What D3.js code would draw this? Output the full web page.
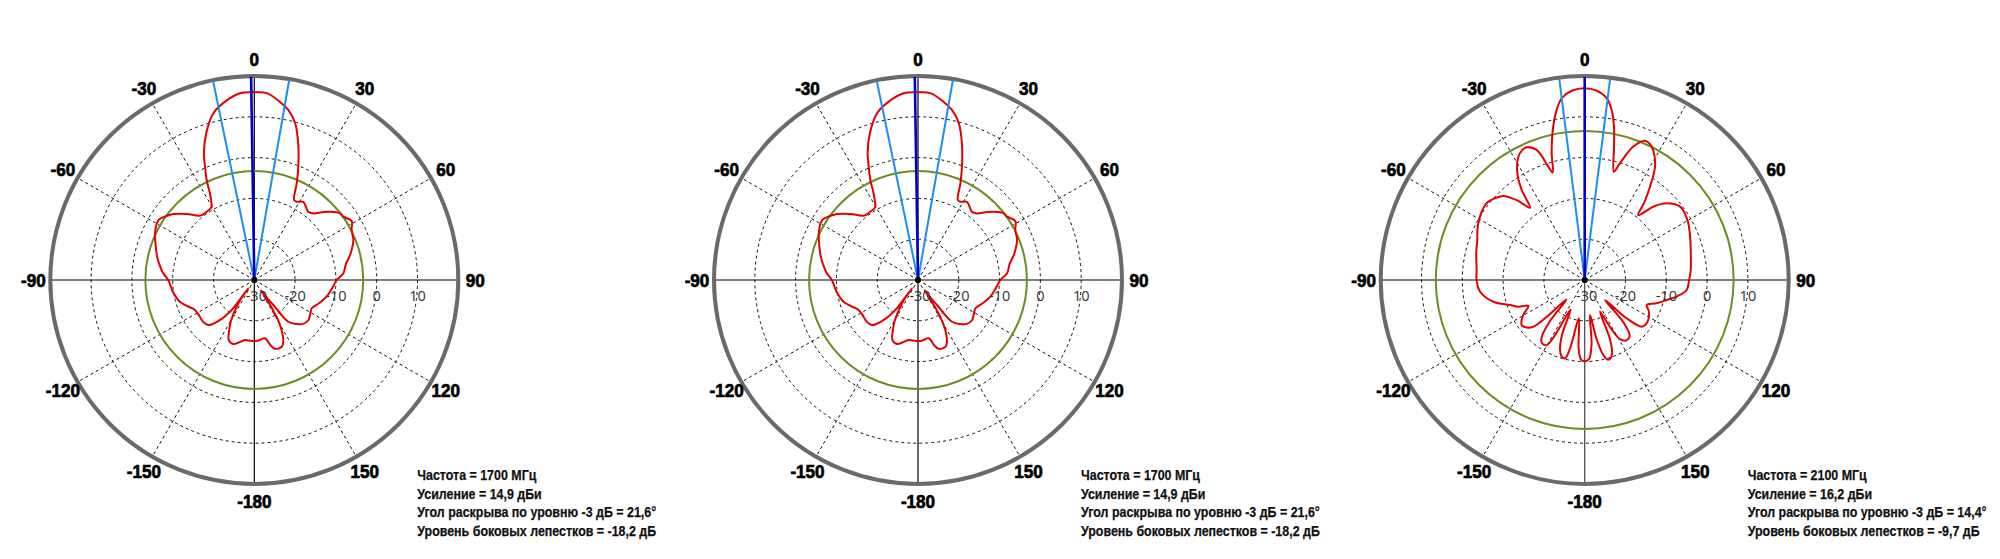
<!DOCTYPE html>
<html><head><meta charset="utf-8">
<script src="https://cdn.jsdelivr.net/npm/d3@7"></script>
<style>html,body{margin:0;background:#fff}svg{display:block}</style>
</head><body>
<svg id="chart" width="2000" height="559"></svg>
<script>
// ---------- data ----------
const angleTicks  = [0, 30, 60, 90, 120, 150, 180, -150, -120, -90, -60, -30];
const angleLabels = ["0","30","60","90","120","150","-180","-150","-120","-90","-60","-30"];
const ringTicks   = [-30, -20, -10, 0, 10];
const ringLabels  = ["-30", "-20", "-10", "0", "10"];
const dbRange     = [-30, 20];

// measured pattern, [angle in degrees, level in dB]
const pattern1700 = [
 [-180,-15.0],[-175,-15.1],[-171,-15.1],[-166,-14.2],[-162,-13.5],[-157,-14.0],[-153.5,-16.2],[-150.5,-18.3],
 [-147.5,-21.2],[-145,-24.0],[-144,-27.5],[-143.2,-21.4],[-141.5,-19.0],[-139.4,-17.1],[-134.4,-14.2],[-129,-13.8],
 [-124,-13.9],[-116.8,-13.7],[-111,-12.3],[-106.3,-11.0],[-98,-9.8],[-90,-8.9],[-85.8,-7.6],[-81,-6.5],[-76.5,-5.5],
 [-68,-3.8],[-64.8,-3.1],[-58,-2.3],[-53.7,-3.4],[-50.8,-4.4],[-45.7,-6.8],[-40,-9.4],[-35,-9.6],[-30.5,-9.3],
 [-28.5,-7.8],[-27.1,-6.1],[-25.5,-2.9],[-23.5,0.3],[-21.7,3.4],[-18.2,7.8],[-13.8,12.1],[-9.3,14.3],[-4.4,15.9],
 [0,16.0],[3.8,15.9],[8.2,14.1],[11.3,12.5],[14.6,9.7],[17.8,5.2],[20.7,0.6],[23.7,-4.1],[26.4,-8.1],[28.4,-8.2],
 [32,-7.4],[35,-8.0],[38.3,-8.7],[41.5,-8.2],[45,-6.5],[48,-5.0],[52,-3.4],[54.6,-3.2],[58.8,-2.1],[62.8,-3.2],
 [68,-3.8],[72.7,-5.0],[76.2,-6.0],[80,-7.2],[85.7,-8.1],[90,-9.8],[96,-10.8],[103,-11.8],[110,-13.2],[116.2,-14.3],
 [121,-14.0],[126.5,-13.5],[131.9,-13.9],[136,-15.0],[140.8,-16.8],[142.8,-22.3],[145,-25.0],[146.5,-27.0],
 [148,-21.5],[150,-17.6],[152.7,-14.8],[155,-13.2],[157.7,-12.3],[163.3,-12.4],[166,-13.5],[169.6,-15.5],[175,-15.2]
];
const pattern2100 = [
 [-180,-10.1],[-177.5,-10.4],[-175,-13],[-171.3,-20.5],[-168,-13],[-165.9,-10.2],[-163,-10.5],[-160.6,-11.8],
 [-157.5,-15.5],[-154.5,-22],[-151.5,-14],[-149.7,-11.5],[-146,-11.3],[-143,-12.5],[-140,-16.5],[-137,-23.5],
 [-134,-16.5],[-131.8,-12.6],[-128,-11.3],[-125.5,-11.0],[-120,-12.5],[-114.7,-14.8],[-112,-12.5],[-108.5,-10.7],
 [-103.4,-7.0],[-96.4,-4.2],[-90,-3.5],[-84.7,-3.4],[-76,-2.6],[-69.6,-1.9],[-64,-0.8],[-58.8,0.0],[-54,0.5],
 [-50.9,0.45],[-47.5,-0.3],[-44.1,-1.3],[-40.4,-4.3],[-37.1,-7.8],[-35,-3.1],[-32.3,0.9],[-28.3,4.3],[-25.8,5.3],
 [-23.6,5.5],[-20.3,4.0],[-17.8,-0.8],[-16.6,-2.55],[-14.6,2.1],[-12,7.6],[-9.4,12.2],[-7.2,14.9],[-3.9,16.5],
 [0,17.0],[3.6,16.5],[6.9,14.9],[9,12.2],[10.8,8.3],[12.4,3.5],[15.1,-2.5],[16.8,-0.1],[20,4.8],[23.4,7.2],
 [25.5,7.0],[27.8,6.0],[31.8,2.7],[35,-2.1],[37.5,-6.0],[39.5,-9.4],[43.1,-5.4],[46.9,-2.5],[52.4,-0.5],[56,-0.5],
 [61.3,-1.05],[66,-1.8],[72.6,-2.8],[84.6,-3.9],[90,-4.4],[95.6,-4.9],[100,-7.0],[103.7,-9.3],[108,-11.5],
 [112,-13.6],[116,-12.5],[122.2,-11.6],[126,-11.5],[129.3,-11.9],[132.4,-16.1],[134.6,-23],[137.5,-16],[141,-12.5],
 [145,-12],[149,-13],[151.5,-16.5],[154.2,-21.4],[157,-14],[160,-10.5],[163.6,-9.6],[166,-11],[168.5,-15],
 [171.4,-21.3],[174,-14],[177,-10.5]
];

const frequencies   = [1700, 1700, 2100];
const gains         = [14.9, 14.9, 16.2];
const beamWidths    = [21.6, 21.6, 14.4];
const beamAxes      = [-0.9, -0.9, 0];
const sideLobes     = [-18.2, -18.2, -9.7];
const patterns      = [pattern1700, pattern1700, pattern2100];

const fmt = v => String(v).replace(".", ",");
const infoLines = i => [
  `Частота = ${frequencies[i]} МГц`,
  `Усиление = ${fmt(gains[i])} дБи`,
  `Угол раскрыва по уровню -3 дБ = ${fmt(beamWidths[i])}°`,
  `Уровень боковых лепестков = ${fmt(sideLobes[i])} дБ`
];

// ---------- layout ----------
const centersX = [254.3, 918, 1584.7];
const centerY = 280;
const R = 204;
const rad = d3.scaleLinear().domain(dbRange).range([0, R]);
const toRad = a => a * Math.PI / 180;
const px = (a, r) => r * Math.sin(toRad(a));
const py = (a, r) => -r * Math.cos(toRad(a));

const svg = d3.select("#chart");

centersX.forEach((cx, i) => {
  const g = svg.append("g").attr("transform", `translate(${cx},${centerY})`);

  // dashed rings
  g.selectAll("circle.ring").data(ringTicks.slice(1)).join("circle")
    .attr("r", d => rad(d)).attr("fill", "none")
    .attr("stroke", "#111").attr("stroke-width", 1).attr("stroke-dasharray", "3,3");

  // dashed spokes
  const spokes = angleTicks.filter(a => a % 90 !== 0);
  g.selectAll("line.spoke").data(spokes).join("line")
    .attr("x1", 0).attr("y1", 0)
    .attr("x2", a => px(a, R)).attr("y2", a => py(a, R))
    .attr("stroke", "#111").attr("stroke-width", 1).attr("stroke-dasharray", "3,3");

  // solid axes
  g.append("line").attr("x1", -R).attr("x2", R).attr("y1", 0).attr("y2", 0)
    .attr("stroke", "#000").attr("stroke-width", 1.2);
  g.append("line").attr("x1", 0).attr("x2", 0).attr("y1", -R).attr("y2", R)
    .attr("stroke", i === 2 ? "#444" : "#000").attr("stroke-width", 1.2);

  // side-lobe reference circle
  g.append("circle").attr("r", rad(gains[i] + sideLobes[i])).attr("fill", "none")
    .attr("stroke", "#6b8e23").attr("stroke-width", 2);

  // outer circle
  g.append("circle").attr("r", R).attr("fill", "none")
    .attr("stroke", "#6a6a6a").attr("stroke-width", 4);

  // pattern
  const line = d3.lineRadial()
    .angle(d => toRad(d[0]))
    .radius(d => rad(d[1]))
    .curve(d3.curveCatmullRomClosed.alpha(0.5));
  g.append("path").attr("d", line(patterns[i])).attr("fill", "none")
    .attr("stroke", "#e30000").attr("stroke-width", 2).attr("stroke-linejoin", "round");

  // -3 dB beam lines
  const hb = beamWidths[i] / 2;
  [beamAxes[i] - hb, beamAxes[i] + hb].forEach(a => {
    g.append("line").attr("x1", 0).attr("y1", 0)
      .attr("x2", px(a, R - 1)).attr("y2", py(a, R - 1))
      .attr("stroke", "#1e8ff0").attr("stroke-width", 2);
  });
  // beam axis
  g.append("line").attr("x1", 0).attr("y1", 0)
    .attr("x2", px(beamAxes[i], R - 1)).attr("y2", py(beamAxes[i], R - 1))
    .attr("stroke", "#0000cc").attr("stroke-width", 2.6);

  g.append("circle").attr("r", 3).attr("fill", "#000");

  // angle labels (heavy, slightly condensed)
  g.selectAll("g.ang").data(angleTicks).join("g")
    .attr("transform", a => `translate(${px(a, R + 17)},${py(a, R + 17)}) scale(0.9,1)`)
    .append("text")
    .attr("dy", "0.36em").attr("text-anchor", "middle")
    .attr("font-family", "'Liberation Sans', Arial, sans-serif")
    .attr("font-weight", "bold").attr("font-size", 19).attr("fill", "#000")
    .attr("stroke", "#000").attr("stroke-width", 0.7)
    .text((a, k) => angleLabels[k]);

  // radial labels
  g.selectAll("text.rl").data(ringTicks).join("text")
    .attr("x", (d, k) => rad(d) + (k === 0 ? 2 : 0)).attr("y", 15.3)
    .attr("dy", "0.36em").attr("text-anchor", "middle")
    .attr("font-family", "'Open Sans', 'DejaVu Sans', sans-serif")
    .attr("font-size", 14.5).attr("fill", "#333")
    .text((d, k) => ringLabels[k]);

  // info block
  const info = svg.append("g").attr("transform", `translate(${cx + 163},480)`);
  const t = info.selectAll("text").data(infoLines(i)).join("text")
    .attr("x", 0).attr("y", (d, k) => k * 18.6)
    .attr("font-family", "'Liberation Sans Narrow', 'Arial Narrow', 'Liberation Sans', Arial, sans-serif")
    .attr("font-weight", "bold").attr("font-size", 15).attr("fill", "#111")
    .attr("stroke", "#111").attr("stroke-width", 0.25)
    .text(d => d);
  const w = t.nodes()[2].getComputedTextLength();
  const s = 239 / w;
  info.attr("transform", `translate(${cx + 163},480) scale(${s},1)`);
});
</script>
</body></html>
